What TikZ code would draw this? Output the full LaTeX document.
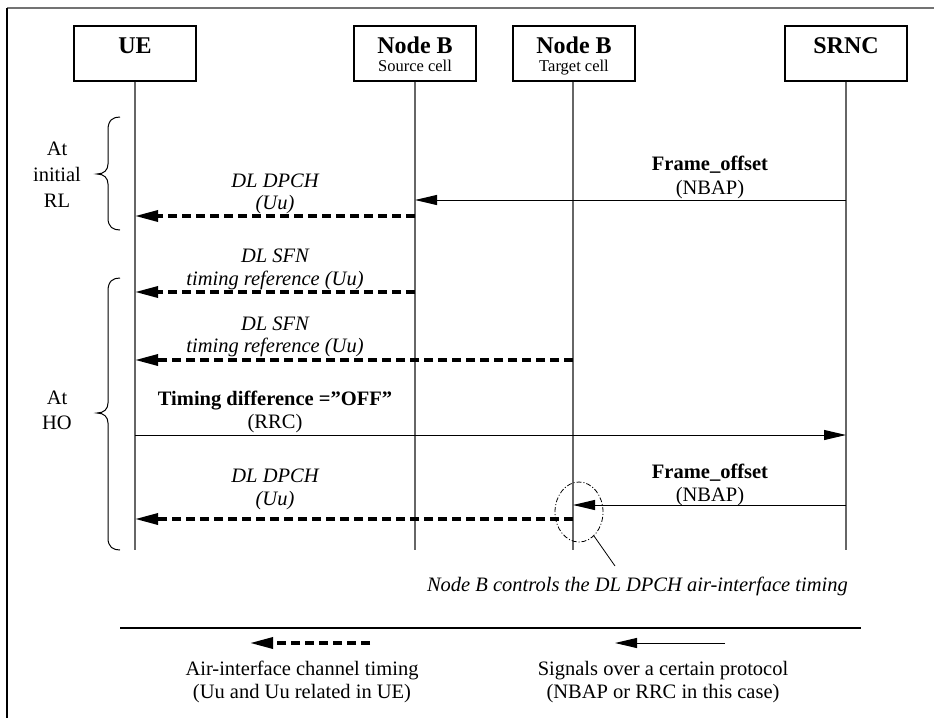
\documentclass[tikz,border=0pt]{standalone}
\usepackage{fontspec}
\setmainfont{Liberation Serif}
\usetikzlibrary{arrows.meta,shapes.geometric}
\begin{document}
\begin{tikzpicture}[x=1pt,y=-1pt,
  box/.style={draw=black, line width=1.4pt, minimum width=122pt, minimum height=55pt, inner sep=0pt},
  title/.style={font=\fontsize{24}{26}\selectfont\bfseries, anchor=base, inner sep=0pt},
  sub/.style={font=\fontsize{16.5}{18}\selectfont, anchor=base, inner sep=0pt},
  lbl/.style={font=\fontsize{20.5}{23}\selectfont, anchor=base, inner sep=0pt},
  lblb/.style={font=\fontsize{20.5}{23}\selectfont\bfseries, anchor=base, inner sep=0pt},
  lbli/.style={font=\fontsize{20.5}{23}\selectfont\itshape, anchor=base, inner sep=0pt},
  life/.style={draw=black!60, line width=1.5pt},
  msg/.style={line width=1pt, -{Triangle[length=22pt,width=10pt]}},
  air/.style={line width=3.3pt, dash pattern=on 9pt off 5pt, -{Triangle[length=23pt,width=11pt]}},
  bracel/.style={line width=1pt},
  frameline/.style={line width=1.5pt}
]
\useasboundingbox (0,0) rectangle (934,718);

% frame
\coordinate (fr1) at (934,8);
\coordinate (fr2) at (7,8);
\coordinate (fr3) at (7,718);
\draw[frameline, draw=black!55] (fr1) -- (fr2);
\draw[frameline] (fr2) -- (fr3);

% entity boxes
\node[box] (ue) at (135,53.5) {};
\node[box] (nbs) at (415,53.5) {};
\node[box] (nbt) at (574,53.5) {};
\node[box] (srnc) at (846,53.5) {};
\node[title] (uet) at (135,53) {UE};
\node[title] (nbst) at (415,53) {Node B};
\node[sub] (nbss) at (415,71) {Source cell};
\node[title] (nbtt) at (574,53) {Node B};
\node[sub] (nbts) at (574,71) {Target cell};
\node[title] (srnct) at (846,53) {SRNC};

% lifelines
\coordinate (ueE) at (135,550);
\coordinate (nbsE) at (415,550);
\coordinate (nbtE) at (573,550);
\coordinate (srncE) at (846,550);
\draw[life] (ue.south -| ueE) -- (ueE);
\draw[life] (nbs.south -| nbsE) -- (nbsE);
\draw[life] (nbt.south -| nbtE) -- (nbtE);
\draw[life] (srnc.south -| srncE) -- (srncE);

% braces
\draw[bracel] (120,117) .. controls (113,117) and (108,120) .. (108,130)
  -- (108,164) .. controls (108,170) and (104,174) .. (97,174)
  .. controls (104,174) and (108,178) .. (108,184)
  -- (108,218) .. controls (108,227) and (113,230) .. (120,230);
\draw[bracel] (120,278) .. controls (113,278) and (108,281) .. (108,291)
  -- (108,403) .. controls (108,409) and (104,413) .. (97,413)
  .. controls (104,413) and (108,417) .. (108,423)
  -- (108,538) .. controls (108,547) and (113,550) .. (120,550);
\node[lbl] (at1) at (57,155) {At};
\node[lbl] (at2) at (57,181) {initial};
\node[lbl] (at3) at (57,207) {RL};
\node[lbl] (ho1) at (57,404) {At};
\node[lbl] (ho2) at (57,429) {HO};

% message 1: Frame_offset SRNC -> Node B source
\coordinate (m1a) at (846,200);
\coordinate (m1b) at (415,200);
\draw[msg] (m1a) -- (m1b);
\node[lblb] (m1l1) at (710,170) {Frame\_offset};
\node[lbl] (m1l2) at (710,194) {(NBAP)};

% message 2: DL DPCH Node B source -> UE
\coordinate (m2a) at (415,216);
\coordinate (m2b) at (135,216);
\draw[air] (m2a) -- (m2b);
\node[lbli] (m2l1) at (275,187) {DL DPCH};
\node[lbli] (m2l2) at (275,209) {(Uu)};

% message 3: DL SFN from source
\coordinate (m3a) at (415,292);
\coordinate (m3b) at (135,292);
\draw[air] (m3a) -- (m3b);
\node[lbli] (m3l1) at (275,262) {DL SFN};
\node[lbli] (m3l2) at (275,285) {timing reference (Uu)};

% message 4: DL SFN from target
\coordinate (m4a) at (573,360);
\coordinate (m4b) at (135,360);
\draw[air] (m4a) -- (m4b);
\node[lbli] (m4l1) at (275,330) {DL SFN};
\node[lbli] (m4l2) at (275,352) {timing reference (Uu)};

% message 5: Timing difference UE -> SRNC
\coordinate (m5a) at (135,435);
\coordinate (m5b) at (846,435);
\draw[msg] (m5a) -- (m5b);
\node[lblb] (m5l1) at (275,405) {Timing difference =”OFF”};
\node[lbl] (m5l2) at (275,428) {(RRC)};

% message 6: Frame_offset SRNC -> Node B target
\coordinate (m6a) at (846,505);
\coordinate (m6b) at (573,505);
\draw[msg] (m6a) -- (m6b);
\node[lblb] (m6l1) at (710,478) {Frame\_offset};
\node[lbl] (m6l2) at (710,501) {(NBAP)};

% message 7: DL DPCH Node B target -> UE
\coordinate (m7a) at (573,519);
\coordinate (m7b) at (135,519);
\draw[air] (m7a) -- (m7b);
\node[lbli] (m7l1) at (275,482) {DL DPCH};
\node[lbli] (m7l2) at (275,505) {(Uu)};

% annotation
\node[draw, ellipse, line width=0.8pt, dash pattern=on 5pt off 2pt on 1pt off 2pt,
  minimum width=48pt, minimum height=60pt, inner sep=0pt] (circ) at (579,512) {};
\coordinate (ptr) at (615,566);
\draw[line width=0.8pt] (circ.-58) -- (ptr);
\node[lbli, anchor=base east] (note) at (848,591) {Node B controls the DL DPCH air-interface timing};

% legend
\coordinate (sepA) at (120,628);
\coordinate (sepB) at (861,628);
\draw[line width=1.2pt] (sepA) -- (sepB);
\coordinate (lg1a) at (370,643);
\coordinate (lg1b) at (250,643);
\draw[air] (lg1a) -- (lg1b);
\coordinate (lg2a) at (725,643);
\coordinate (lg2b) at (615,643);
\draw[msg] (lg2a) -- (lg2b);
\node[lbl] (lg1t1) at (302,675) {Air-interface channel timing};
\node[lbl] (lg1t2) at (302,698) {(Uu and Uu related in UE)};
\node[lbl] (lg2t1) at (663,675) {Signals over a certain protocol};
\node[lbl] (lg2t2) at (663,698) {(NBAP or RRC in this case)};
\end{tikzpicture}
\end{document}
